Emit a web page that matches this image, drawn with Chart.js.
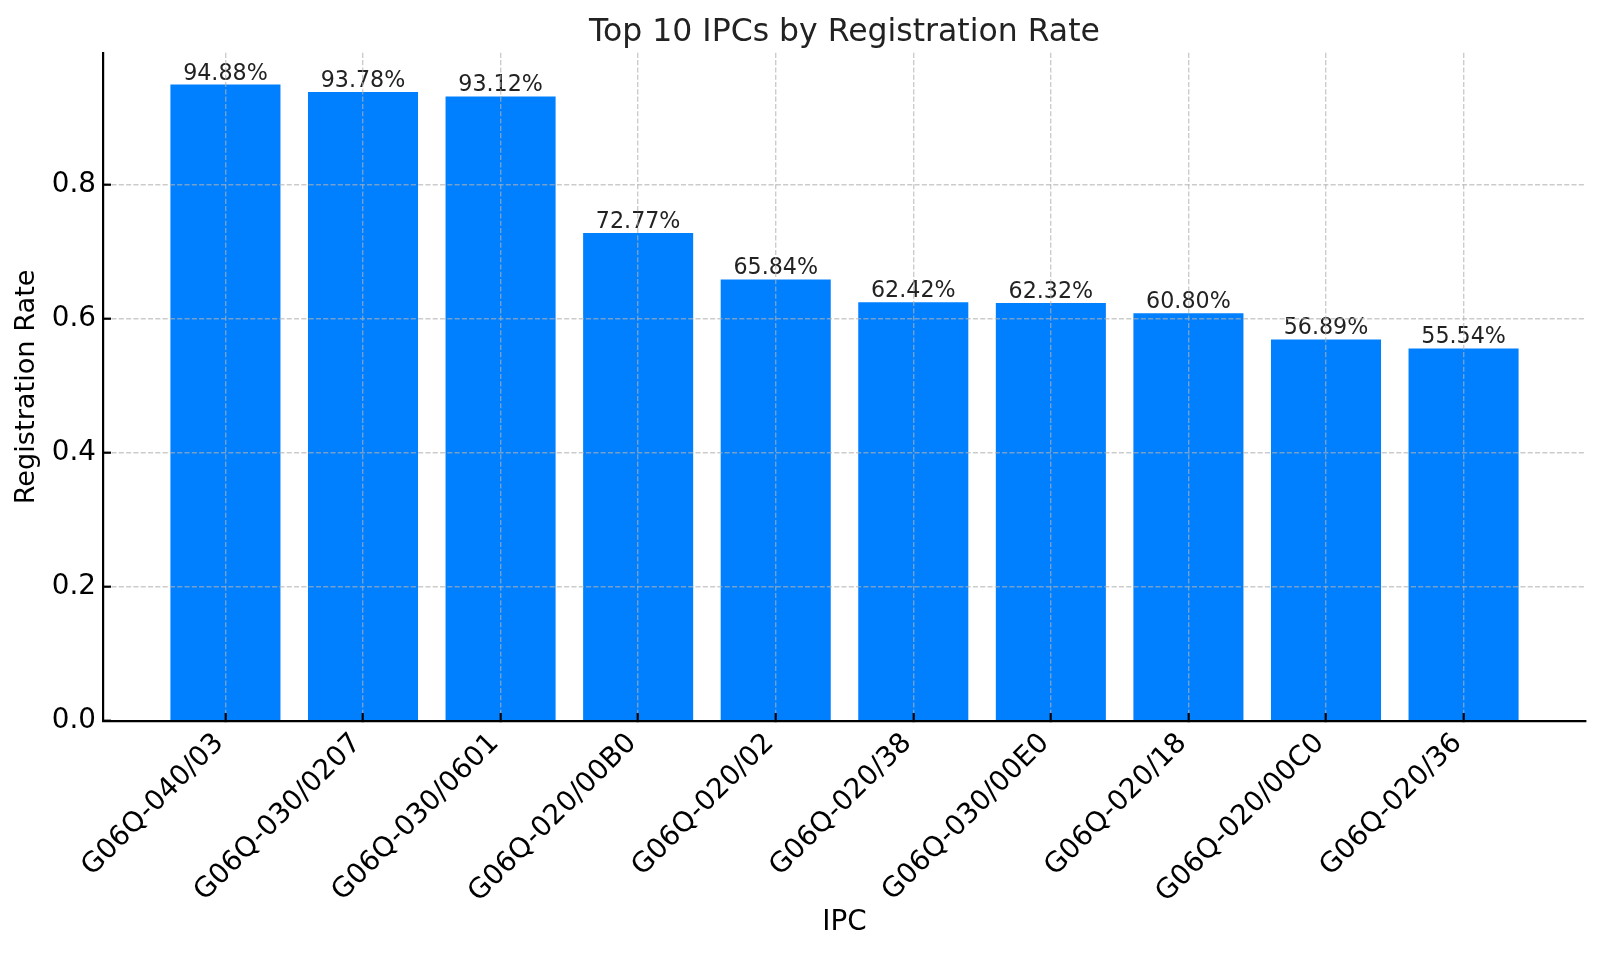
<!DOCTYPE html>
<html>
<head>
<meta charset="utf-8">
<title>Top 10 IPCs by Registration Rate</title>
<script src="https://cdn.jsdelivr.net/npm/chart.js@4/dist/chart.umd.min.js"></script>
<style>
  html, body { margin: 0; padding: 0; background: #fff; }
  #wrap { width: 1600px; height: 954px; }
</style>
</head>
<body>
<div id="wrap"><canvas id="chart"></canvas></div>
<script>
// data
const ipcCodes = [
  'G06Q-040/03', 'G06Q-030/0207', 'G06Q-030/0601', 'G06Q-020/00B0', 'G06Q-020/02',
  'G06Q-020/38', 'G06Q-030/00E0', 'G06Q-020/18', 'G06Q-020/00C0', 'G06Q-020/36'
];
const regRates = [0.9488, 0.9378, 0.9312, 0.7277, 0.6584, 0.6242, 0.6232, 0.6080, 0.5689, 0.5554];
const yTicks = [0, 0.2, 0.4, 0.6, 0.8];

const FONT = '"DejaVu Sans", Verdana, sans-serif';
const BAR_BLUE = '#0080ff';
const GRID = 'rgba(176,176,176,0.65)';

// percentage text above every bar
const barLabels = {
  id: 'barLabels',
  afterDatasetsDraw(chart) {
    const ctx = chart.ctx;
    const meta = chart.getDatasetMeta(0);
    ctx.save();
    ctx.font = '22.2px ' + FONT;
    ctx.fillStyle = '#222';
    ctx.textAlign = 'center';
    ctx.textBaseline = 'alphabetic';
    meta.data.forEach((bar, i) => {
      ctx.fillText((regRates[i] * 100).toFixed(2) + '%', bar.x, bar.y - 5);
    });
    ctx.restore();
  }
};

// centre the title over the plot area, not the whole canvas
const centerTitle = {
  id: 'centerTitle',
  afterLayout(chart) {
    const t = chart.titleBlock;
    if (t) {
      t.left = chart.chartArea.left;
      t.right = chart.chartArea.right;
    }
  }
};

const gridOpts = {
  z: 1,
  color: GRID,
  lineWidth: 1.4,
  tickLength: -8,
  tickColor: '#000',
  tickWidth: 2.2,
  tickBorderDash: [],
};

new Chart(document.getElementById('chart'), {
  type: 'bar',
  data: {
    datasets: [{
      label: 'Registration Rate',
      data: regRates.map((v, i) => ({ x: i, y: v })),
      backgroundColor: BAR_BLUE,
      borderWidth: 0,
      categoryPercentage: 1,
      barPercentage: 0.8,
    }]
  },
  options: {
    responsive: true,
    maintainAspectRatio: false,
    animation: false,
    devicePixelRatio: 1,
    layout: { padding: { left: 0, right: 14, top: 0, bottom: 0 } },
    plugins: {
      legend: { display: false },
      tooltip: { enabled: false },
      title: {
        display: true,
        text: 'Top 10 IPCs by Registration Rate',
        color: '#222',
        font: { family: FONT, size: 31.5, weight: 'normal' },
        padding: { top: 13.5, bottom: 1.5 },
      },
    },
    scales: {
      x: {
        type: 'linear',
        min: -0.89,
        max: 9.89,
        offset: false,
        grid: { ...gridOpts, offset: false },
        border: { color: '#000', width: 2.2, dash: [5.1, 2.2], z: 2 },
        afterBuildTicks: (s) => { s.ticks = ipcCodes.map((_, i) => ({ value: i })); },
        afterFit: (s) => { s.height = 233; s.paddingLeft = 0; s.paddingRight = 0; },
        ticks: {
          z: 2,
          autoSkip: false,
          minRotation: 45,
          maxRotation: 45,
          padding: 14,
          labelOffset: -6,
          color: '#000',
          font: { family: FONT, size: 27.8 },
          callback: (v) => ipcCodes[v] ?? '',
        },
        title: {
          display: true,
          text: 'IPC',
          color: '#000',
          font: { family: FONT, size: 27.8 },
          padding: { top: 0, bottom: 14.3 },
        },
      },
      y: {
        min: 0,
        max: 0.9962,
        grid: gridOpts,
        border: { color: '#000', width: 2.2, dash: [5.1, 2.2], z: 2 },
        afterBuildTicks: (s) => { s.ticks = yTicks.map(v => ({ value: v })); },
        afterFit: (s) => { s.width = 103; s.paddingTop = 0; s.paddingBottom = 0; },
        ticks: {
          z: 2,
          padding: 15,
          color: '#000',
          font: { family: FONT, size: 27.8 },
          callback: (v) => Number(v).toFixed(1),
        },
        title: {
          display: true,
          text: 'Registration Rate',
          color: '#000',
          font: { family: FONT, size: 27.2 },
          padding: { top: 11, bottom: 0 },
        },
      },
    },
  },
  plugins: [barLabels, centerTitle],
});
</script>
</body>
</html>
